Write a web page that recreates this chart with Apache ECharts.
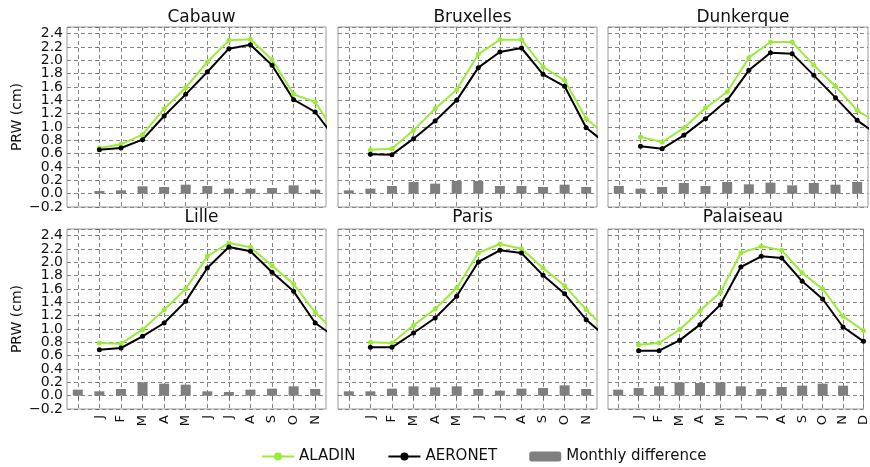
<!DOCTYPE html>
<html>
<head>
<meta charset="utf-8">
<script src="https://cdn.jsdelivr.net/npm/echarts@6/dist/echarts.min.js"></script>
<style>
  html, body { margin: 0; padding: 0; background: #fff; }
  #chart { width: 870px; height: 467px; }
</style>
</head>
<body>
<div id="chart"></div>
<script>
// month labels, line points sit at 0..11, bars at -1..10 (as in the original figure)
const months = ['J', 'F', 'M', 'A', 'M', 'J', 'J', 'A', 'S', 'O', 'N', 'D'];
const stations = ['Cabauw', 'Bruxelles', 'Dunkerque', 'Lille', 'Paris', 'Palaiseau'];
const yTicksA = [-0.2, 0.2, 0.6, 1.0, 1.4, 1.8, 2.2];
const yTicksB = [0, 0.4, 0.8, 1.2, 1.6, 2.0, 2.4];

const aladinCabauw = [0.685, 0.74, 0.885, 1.275, 1.59, 1.975, 2.30, 2.315, 2.01, 1.49, 1.375, 0.875];
const aeronetCabauw = [0.66, 0.685, 0.81, 1.165, 1.49, 1.825, 2.175, 2.235, 1.925, 1.41, 1.225, 0.795];
const diffCabauw = [null, 0.04, 0.05, 0.11, 0.10, 0.135, 0.115, 0.075, 0.075, 0.085, 0.125, 0.06];

const aladinBruxelles = [0.66, 0.675, 0.95, 1.275, 1.56, 2.09, 2.31, 2.31, 1.90, 1.70, 1.125, 0.855];
const aeronetBruxelles = [0.59, 0.585, 0.825, 1.09, 1.40, 1.89, 2.125, 2.185, 1.79, 1.61, 0.99, 0.73];
const diffBruxelles = [0.05, 0.075, 0.115, 0.175, 0.15, 0.19, 0.19, 0.115, 0.115, 0.10, 0.135, 0.10];

const aladinDunkerque = [0.85, 0.775, 0.985, 1.285, 1.525, 2.04, 2.275, 2.275, 1.925, 1.61, 1.25, 1.05];
const aeronetDunkerque = [0.71, 0.675, 0.875, 1.125, 1.40, 1.85, 2.115, 2.10, 1.775, 1.44, 1.10, 0.87];
const diffDunkerque = [0.115, 0.075, 0.10, 0.16, 0.115, 0.175, 0.14, 0.165, 0.125, 0.16, 0.135, 0.175];

const aladinLille = [0.79, 0.78, 0.99, 1.29, 1.60, 2.09, 2.29, 2.225, 1.95, 1.675, 1.25, 0.93];
const aeronetLille = [0.69, 0.715, 0.89, 1.09, 1.415, 1.915, 2.23, 2.165, 1.85, 1.565, 1.09, 0.86];
const diffLille = [0.09, 0.065, 0.10, 0.20, 0.18, 0.165, 0.065, 0.055, 0.09, 0.105, 0.14, 0.10];

const aladinParis = [0.80, 0.79, 1.055, 1.30, 1.615, 2.14, 2.275, 2.205, 1.915, 1.65, 1.29, 0.97];
const aeronetParis = [0.725, 0.725, 0.94, 1.165, 1.49, 2.005, 2.18, 2.14, 1.805, 1.53, 1.14, 0.86];
const diffParis = [0.065, 0.065, 0.105, 0.14, 0.125, 0.14, 0.10, 0.075, 0.105, 0.115, 0.155, 0.10];

const aladinPalaiseau = [0.765, 0.79, 0.99, 1.275, 1.55, 2.14, 2.24, 2.18, 1.84, 1.60, 1.19, 0.975];
const aeronetPalaiseau = [0.675, 0.675, 0.83, 1.065, 1.365, 1.93, 2.09, 2.065, 1.715, 1.45, 1.03, 0.815];
const diffPalaiseau = [0.09, 0.115, 0.14, 0.20, 0.19, 0.20, 0.14, 0.10, 0.13, 0.15, 0.18, 0.15];

const aladin = [aladinCabauw, aladinBruxelles, aladinDunkerque, aladinLille, aladinParis, aladinPalaiseau];
const aeronet = [aeronetCabauw, aeronetBruxelles, aeronetDunkerque, aeronetLille, aeronetParis, aeronetPalaiseau];
const diffs = [diffCabauw, diffBruxelles, diffDunkerque, diffLille, diffParis, diffPalaiseau];

const chart = echarts.init(document.getElementById('chart'), null, { renderer: 'canvas' });

const FONT = 'DejaVu Sans';
const lefts = [67, 338, 608];
const widths = [259, 259, 260];
const tops = [27, 229];
const xMax = [10.5, 10.5, 10.5, 10.5, 10.5, 11];

var grids = [], xAxes = [], yAxes = [], extraY = [], titles = [], series = [];

function yLabel(v) {
  return v.toFixed(1).replace('-', '\u2212');
}

for (let i = 0; i < 6; i++) {
  const col = i % 3, row = Math.floor(i / 3);
  grids.push({
    left: lefts[col], top: tops[row], width: widths[col], height: 180,
    show: true, borderColor: '#9a9a9a', borderWidth: 1, backgroundColor: 'transparent'
  });
  titles.push({
    text: stations[i],
    left: lefts[col] + widths[col] / 2, top: row === 0 ? 4 : 204,
    textAlign: 'center',
    textStyle: { fontFamily: FONT, fontSize: 17, fontWeight: 'normal', color: '#111' }
  });
  const ticks = [];
  for (let k = -1; k <= Math.floor(xMax[i]); k++) ticks.push(k);
  xAxes.push({
    type: 'value', gridIndex: i, min: -1.5, max: xMax[i],
    axisLine: { show: false },
    axisTick: { show: true, customValues: ticks, length: 4, lineStyle: { color: '#666' } },
    axisLabel: {
      show: row === 1, customValues: ticks.filter(k => k >= 0),
      rotate: 90, margin: 6, fontFamily: FONT, fontSize: 13, color: '#111',
      formatter: v => months[Math.round(v)] || ''
    },
    splitLine: { show: true, lineStyle: { color: '#858585', type: [4, 3], width: 1 } }
  });
  // main axis: grid lines, ticks, labels at -0.2, 0.2, 0.6 ...
  yAxes.push({
    type: 'value', gridIndex: i, min: -0.2, max: 2.5, interval: 0.2, position: 'left',
    name: col === 0 ? 'PRW (cm)' : '', nameLocation: 'middle', nameGap: 43,
    nameTextStyle: { fontFamily: FONT, fontSize: 14, color: '#111' },
    axisLine: { show: false },
    axisTick: { show: col === 0, length: 3, lineStyle: { color: '#666' } },
    axisLabel: {
      show: col === 0, customValues: yTicksA, showMinLabel: true, showMaxLabel: true,
      margin: 4, fontFamily: FONT, fontSize: 14, color: '#111', formatter: yLabel
    },
    splitLine: { show: true, lineStyle: { color: '#858585', type: [4, 3], width: 1 } }
  });
  // twin axis carrying the other half of the labels (they are packed too tight for one axis)
  if (col === 0) {
    extraY.push({
      type: 'value', gridIndex: i, min: -0.2, max: 2.5, position: 'left', offset: 0,
      axisLine: { show: false }, axisTick: { show: false }, splitLine: { show: false },
      axisLabel: {
        customValues: yTicksB, showMinLabel: true, showMaxLabel: true,
        margin: 4, fontFamily: FONT, fontSize: 14, color: '#111', formatter: yLabel
      }
    });
  }

  series.push({
    name: 'Monthly difference', type: 'bar', xAxisIndex: i, yAxisIndex: i,
    barWidth: 10, itemStyle: { color: '#7f7f7f' },
    data: diffs[i].map((v, k) => [k - 1, v])
  });
  series.push({
    name: 'ALADIN', type: 'line', xAxisIndex: i, yAxisIndex: i,
    symbol: 'circle', symbolSize: 5, color: '#9CEB3A',
    lineStyle: { width: 2 }, itemStyle: { color: '#9CEB3A' },
    data: aladin[i].map((v, k) => [k, v])
  });
  series.push({
    name: 'AERONET', type: 'line', xAxisIndex: i, yAxisIndex: i,
    symbol: 'circle', symbolSize: 5, color: '#000',
    lineStyle: { width: 2 }, itemStyle: { color: '#000' },
    data: aeronet[i].map((v, k) => [k, v])
  });
}

var option = {
  backgroundColor: '#ffffff',
  animation: false,
  title: titles,
  grid: grids,
  xAxis: xAxes,
  yAxis: yAxes.concat(extraY),
  legend: {
    data: ['ALADIN', 'AERONET', 'Monthly difference'],
    left: 256, top: 444,
    itemWidth: 32, itemHeight: 10, itemGap: 32,
    textStyle: { fontFamily: FONT, fontSize: 15, color: '#111' }
  },
  series: series
};

chart.setOption(option);
</script>
</body>
</html>
